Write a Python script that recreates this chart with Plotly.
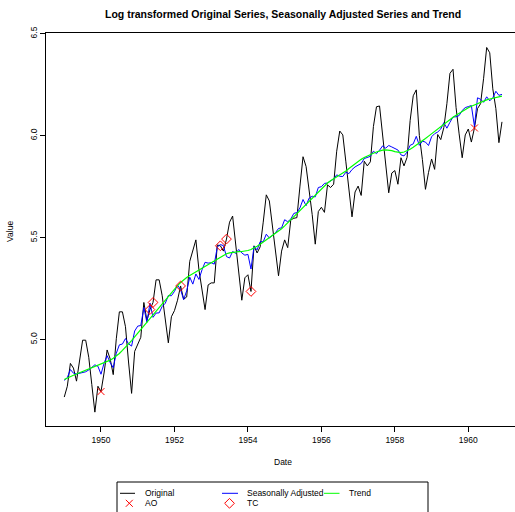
import plotly.graph_objects as go

# ---------------- data ----------------
years = list(range(1949, 1961))
month_offsets = [m / 12 for m in range(12)]

original = [
    4.718, 4.771, 4.883, 4.860, 4.796, 4.905, 4.997, 4.997, 4.913, 4.779, 4.644, 4.771,
    4.745, 4.836, 4.949, 4.905, 4.828, 5.004, 5.136, 5.136, 5.063, 4.890, 4.736, 4.942,
    4.977, 5.011, 5.182, 5.094, 5.147, 5.182, 5.293, 5.293, 5.215, 5.088, 4.984, 5.112,
    5.142, 5.193, 5.263, 5.198, 5.209, 5.384, 5.438, 5.489, 5.342, 5.252, 5.147, 5.268,
    5.278, 5.278, 5.464, 5.460, 5.434, 5.493, 5.576, 5.606, 5.468, 5.352, 5.193, 5.303,
    5.318, 5.236, 5.460, 5.425, 5.455, 5.576, 5.710, 5.680, 5.557, 5.434, 5.313, 5.434,
    5.489, 5.451, 5.587, 5.595, 5.598, 5.753, 5.897, 5.849, 5.743, 5.613, 5.468, 5.628,
    5.649, 5.624, 5.759, 5.746, 5.762, 5.924, 6.023, 6.004, 5.872, 5.724, 5.602, 5.724,
    5.753, 5.707, 5.875, 5.852, 5.872, 6.045, 6.142, 6.146, 6.001, 5.849, 5.720, 5.817,
    5.829, 5.762, 5.892, 5.852, 5.894, 6.075, 6.196, 6.225, 6.001, 5.883, 5.737, 5.820,
    5.886, 5.835, 6.006, 5.981, 6.040, 6.157, 6.306, 6.326, 6.138, 6.009, 5.892, 6.004,
    6.033, 5.969, 6.038, 6.133, 6.157, 6.282, 6.433, 6.407, 6.230, 6.133, 5.966, 6.068,
]

seasonally_adjusted = [
    4.800, 4.813, 4.853, 4.835, 4.831, 4.835, 4.837, 4.842, 4.851, 4.866, 4.876, 4.869,
    4.830, 4.884, 4.921, 4.887, 4.862, 4.933, 4.974, 4.978, 5.005, 4.979, 4.968, 5.042,
    5.066, 5.069, 5.157, 5.084, 5.179, 5.109, 5.130, 5.131, 5.163, 5.178, 5.216, 5.215,
    5.236, 5.267, 5.245, 5.196, 5.239, 5.306, 5.272, 5.322, 5.295, 5.342, 5.379, 5.375,
    5.377, 5.370, 5.454, 5.466, 5.461, 5.407, 5.400, 5.432, 5.423, 5.442, 5.425, 5.414,
    5.418, 5.346, 5.457, 5.440, 5.480, 5.480, 5.517, 5.498, 5.511, 5.524, 5.545, 5.548,
    5.588, 5.578, 5.591, 5.619, 5.623, 5.646, 5.687, 5.657, 5.694, 5.703, 5.700, 5.746,
    5.750, 5.766, 5.768, 5.779, 5.788, 5.808, 5.801, 5.800, 5.821, 5.814, 5.834, 5.847,
    5.857, 5.864, 5.888, 5.894, 5.899, 5.924, 5.912, 5.929, 5.950, 5.939, 5.952, 5.945,
    5.936, 5.930, 5.906, 5.901, 5.920, 5.953, 5.960, 5.997, 5.953, 5.973, 5.969, 5.952,
    5.995, 6.010, 6.018, 6.033, 6.064, 6.037, 6.066, 6.092, 6.093, 6.099, 6.124, 6.138,
    6.143, 6.148, 6.046, 6.186, 6.179, 6.164, 6.191, 6.171, 6.186, 6.218, 6.198, 6.203,
]

trend = [
    4.804, 4.812, 4.819, 4.825, 4.831, 4.837, 4.842, 4.848, 4.854, 4.860, 4.866, 4.872,
    4.878, 4.884, 4.891, 4.899, 4.908, 4.919, 4.932, 4.947, 4.962, 4.978, 4.995, 5.013,
    5.031, 5.050, 5.069, 5.088, 5.106, 5.124, 5.142, 5.160, 5.178, 5.196, 5.214, 5.232,
    5.249, 5.265, 5.280, 5.293, 5.304, 5.314, 5.323, 5.332, 5.341, 5.350, 5.359, 5.369,
    5.378, 5.388, 5.398, 5.407, 5.415, 5.421, 5.425, 5.428, 5.430, 5.431, 5.432, 5.434,
    5.437, 5.442, 5.449, 5.458, 5.468, 5.479, 5.490, 5.500, 5.510, 5.520, 5.531, 5.544,
    5.558, 5.573, 5.589, 5.605, 5.621, 5.636, 5.650, 5.664, 5.678, 5.694, 5.710, 5.726,
    5.742, 5.756, 5.768, 5.779, 5.788, 5.797, 5.806, 5.816, 5.827, 5.839, 5.851, 5.863,
    5.874, 5.884, 5.893, 5.901, 5.908, 5.914, 5.920, 5.925, 5.929, 5.931, 5.930, 5.927,
    5.922, 5.918, 5.917, 5.920, 5.926, 5.934, 5.943, 5.953, 5.963, 5.974, 5.986, 5.998,
    6.010, 6.022, 6.034, 6.046, 6.058, 6.069, 6.080, 6.091, 6.101, 6.111, 6.120, 6.129,
    6.137, 6.145, 6.152, 6.159, 6.165, 6.171, 6.176, 6.180, 6.184, 6.188, 6.191, 6.194,
]

# outliers as (year, month number 1-12)
ao_outliers = [(1950, 1), (1960, 3)]
tc_outliers = [(1951, 5), (1951, 6), (1952, 3), (1953, 4), (1953, 6), (1954, 2)]

x_tick_values = [1950, 1952, 1954, 1956, 1958, 1960]
x_tick_labels = ["1950", "1952", "1954", "1956", "1958", "1960"]
y_tick_values = [5.0, 5.5, 6.0, 6.5]
y_tick_labels = ["5.0", "5.5", "6.0", "6.5"]

title_text = "Log transformed Original Series, Seasonally Adjusted Series and Trend"

# ---------------- derived positions ----------------
time = [y + off for y in years for off in month_offsets]


def idx(ym):
    return (ym[0] - years[0]) * 12 + (ym[1] - 1)


ao_x = [time[idx(p)] for p in ao_outliers]
ao_y = [original[idx(p)] for p in ao_outliers]
tc_x = [time[idx(p)] for p in tc_outliers]
tc_y = [original[idx(p)] for p in tc_outliers]

W, H = 515, 512
FONT = "Liberation Sans, Arial, Helvetica, sans-serif"
left_px, right_px, top_px, bottom_px = 46.3, 515, 33.3, 426.3

AO_MARKER = dict(symbol="x-thin-open", size=7, color="#FF0000",
                 line=dict(color="#FF0000", width=1))
TC_MARKER = dict(symbol="diamond-open", size=7.5, color="#FF0000",
                 line=dict(color="#FF0000", width=1))

fig = go.Figure()
fig.add_trace(go.Scatter(x=time, y=original, mode="lines",
                         line=dict(color="black", width=1), name="Original"))
fig.add_trace(go.Scatter(x=time, y=seasonally_adjusted, mode="lines",
                         line=dict(color="#0000FF", width=1), name="Seasonally Adjusted"))
fig.add_trace(go.Scatter(x=time, y=trend, mode="lines",
                         line=dict(color="#00FF00", width=1.2), name="Trend"))
fig.add_trace(go.Scatter(x=ao_x, y=ao_y, mode="markers", name="AO", marker=AO_MARKER))
fig.add_trace(go.Scatter(x=tc_x, y=tc_y, mode="markers", name="TC", marker=TC_MARKER))

# legend symbols on a pixel overlay axis
fig.add_trace(go.Scatter(x=[129.3], y=[503.3], mode="markers", xaxis="x2", yaxis="y2",
                         marker=AO_MARKER, hoverinfo="skip"))
fig.add_trace(go.Scatter(x=[229.5], y=[503.3], mode="markers", xaxis="x2", yaxis="y2",
                         marker=TC_MARKER, hoverinfo="skip"))

shapes = [
    dict(type="rect", xref="x2", yref="y2", x0=117, x1=428, y0=482, y1=530,
         line=dict(color="black", width=1), fillcolor="rgba(0,0,0,0)"),
    dict(type="line", xref="x2", yref="y2", x0=120, x1=135, y0=493.3, y1=493.3,
         line=dict(color="black", width=1)),
    dict(type="line", xref="x2", yref="y2", x0=222, x1=238, y0=493.3, y1=493.3,
         line=dict(color="#0000FF", width=1)),
    dict(type="line", xref="x2", yref="y2", x0=324, x1=339.5, y0=493.3, y1=493.3,
         line=dict(color="#00FF00", width=1)),
]

annotations = [
    dict(text="<b>" + title_text + "</b>", xref="x2", yref="y2", x=283, y=14,
         showarrow=False, font=dict(size=10.5, family=FONT, color="black"),
         xanchor="center", yanchor="middle"),
    dict(text="Date", xref="x2", yref="y2", x=283, y=462, showarrow=False,
         font=dict(size=8.5, family=FONT, color="black"), xanchor="center", yanchor="middle"),
    dict(text="Value", xref="x2", yref="y2", x=10, y=232, showarrow=False, textangle=-90,
         font=dict(size=8.5, family=FONT, color="black"), xanchor="center", yanchor="middle"),
]
for label, xp, yp in [("Original", 142.5, 493.3), ("Seasonally Adjusted", 245, 493.3),
                      ("Trend", 346.5, 493.3), ("AO", 142.5, 503.3), ("TC", 245, 503.3)]:
    annotations.append(dict(text=label, xref="x2", yref="y2", x=xp, y=yp, showarrow=False,
                            font=dict(size=8.5, family=FONT, color="black"),
                            xanchor="left", yanchor="middle"))

fig.update_layout(
    width=W, height=H,
    margin=dict(l=0, r=0, t=0, b=0, pad=0),
    paper_bgcolor="white", plot_bgcolor="rgba(0,0,0,0)",
    showlegend=False,
    font=dict(family=FONT, size=8.5, color="black"),
    xaxis=dict(domain=[left_px / W, right_px / W], range=[1948.511, 1961.271],
               tickmode="array", tickvals=x_tick_values, ticktext=x_tick_labels,
               ticks="outside", ticklen=5, tickwidth=1, tickcolor="black",
               showline=True, linecolor="black", linewidth=1, mirror=True,
               showgrid=False, zeroline=False, automargin=False,
               tickfont=dict(size=8.5, family=FONT, color="black")),
    yaxis=dict(domain=[(H - bottom_px) / H, (H - top_px) / H], range=[4.5745, 6.5025],
               tickmode="array", tickvals=y_tick_values, ticktext=y_tick_labels,
               ticks="outside", ticklen=5, tickwidth=1, tickcolor="black", tickangle=-90,
               showline=True, linecolor="black", linewidth=1, mirror=False,
               showgrid=False, zeroline=False, automargin=False,
               tickfont=dict(size=8.5, family=FONT, color="black")),
    xaxis2=dict(domain=[0, 1], range=[0, W], visible=False, anchor="y2", fixedrange=True),
    yaxis2=dict(domain=[0, 1], range=[H, 0], visible=False, anchor="x2", fixedrange=True),
    shapes=shapes,
    annotations=annotations,
)

fig.write_html(
    "out.html",
    config={"displayModeBar": False},
    post_script="document.body.style.margin='0';document.body.style.padding='0';"
                "document.documentElement.style.overflow='hidden';",
)
